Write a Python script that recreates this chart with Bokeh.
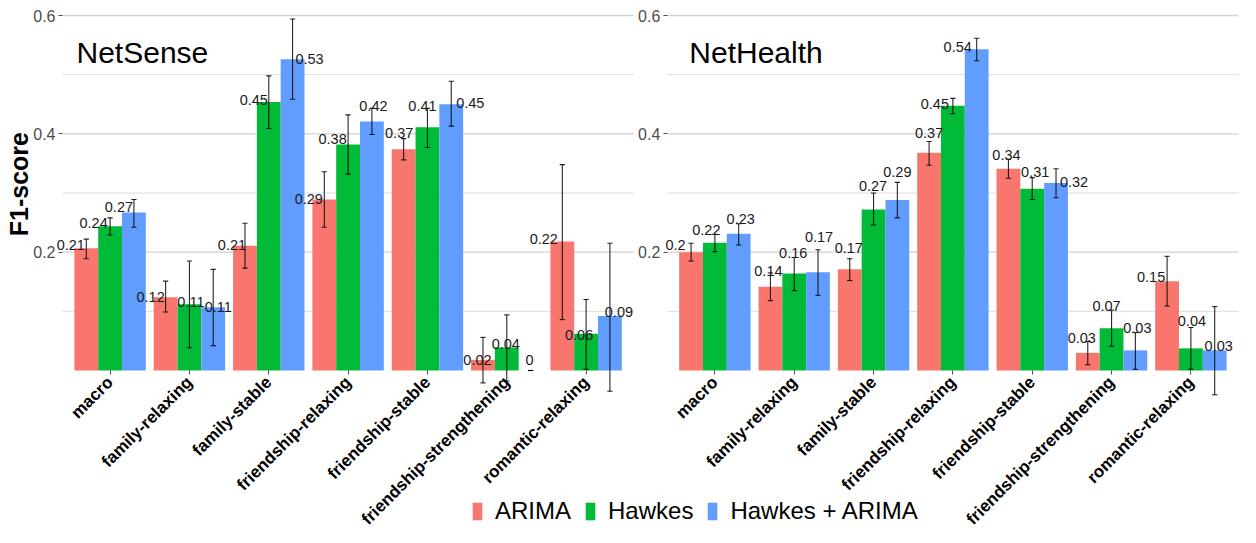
from math import pi
from bokeh.plotting import figure
from bokeh.models import (ColumnDataSource, Range1d, FixedTicker, LinearAxis, Label,
                          Legend, LegendItem)
from bokeh.embed import file_html
from bokeh.resources import INLINE
from bokeh.core.properties import value

# ---------------- data ----------------
categories = ["macro", "family-relaxing", "family-stable", "friendship-relaxing",
              "friendship-stable", "friendship-strengthening", "romantic-relaxing"]
series = ["ARIMA", "Hawkes", "Hawkes + ARIMA"]
panels = ["NetSense", "NetHealth"]

# NetSense F1-score (mean) and error-bar bounds
ns_arima = [0.2065, 0.124, 0.211, 0.289, 0.374, 0.018, 0.218]
ns_arima_lo = [0.189, 0.099, 0.173, 0.242, 0.356, -0.021, 0.086]
ns_arima_hi = [0.222, 0.151, 0.249, 0.336, 0.392, 0.056, 0.348]
ns_hawkes = [0.244, 0.112, 0.4537, 0.382, 0.411, 0.039, 0.062]
ns_hawkes_lo = [0.229, 0.0385, 0.409, 0.332, 0.377, -0.018, 0.002]
ns_hawkes_hi = [0.258, 0.185, 0.498, 0.432, 0.443, 0.094, 0.120]
ns_combo = [0.267, 0.107, 0.526, 0.421, 0.450, 0.0, 0.092]
ns_combo_lo = [0.242, 0.042, 0.4585, 0.399, 0.413, 0.0, -0.035]
ns_combo_hi = [0.289, 0.171, 0.594, 0.443, 0.489, 0.0, 0.215]

# NetHealth
nh_arima = [0.200, 0.1415, 0.171, 0.368, 0.341, 0.0298, 0.151]
nh_arima_lo = [0.185, 0.118, 0.152, 0.347, 0.325, 0.0098, 0.109]
nh_arima_hi = [0.215, 0.165, 0.189, 0.387, 0.357, 0.049, 0.193]
nh_hawkes = [0.216, 0.164, 0.272, 0.4476, 0.307, 0.0715, 0.0374]
nh_hawkes_lo = [0.201, 0.135, 0.246, 0.434, 0.289, 0.041, 0.002]
nh_hawkes_hi = [0.230, 0.191, 0.300, 0.460, 0.326, 0.102, 0.0727]
nh_combo = [0.231, 0.166, 0.288, 0.543, 0.317, 0.034, 0.034]
nh_combo_lo = [0.212, 0.127, 0.258, 0.5236, 0.292, 0.002, -0.041]
nh_combo_hi = [0.248, 0.204, 0.318, 0.5615, 0.341, 0.064, 0.108]

# y ticks
major_ticks = [0.2, 0.4, 0.6]
minor_ticks = [0.1, 0.3, 0.5]

# value-label nudges (px) as placed by the original label-repel layout
ns_label_dx = [[-15.5, -15, -13, -15.5, -4.5, -5.5, -18.5],
               [-16.5, 1.5, -15, -15.5, -5, -1, -7],
               [-15, 5, 17, 1.5, 19, -1, 9]]
ns_label_dy = [[3, 0, 1, 1, 16, 0, 3],
               [3, 2, 2, 5, 21, 3, -1],
               [6, 0, 0, 15, 1, 11, 4]]
nh_label_dx = [[-15.5, -2, -1, 0, -2, -6, -16],
               [-8.5, -1, -0.5, -18, 3, -5, 1],
               [2, 1, 0, -19, 18, 2, 4]]
nh_label_dy = [[7, 16, 21, 20, 14, 15, 4],
               [13, 20, 24, 2, 17, 22, 27],
               [15, 35, 28, 2, 1, 22, 4]]

# ---------------- layout / styling ----------------
W, H = 1240, 527
PAD_L, PAD_R = 62, 2          # px from canvas edge to the panels' outer edges
Y_TOP_PX, Y0_PX = 2, 370      # canvas px of y = y_top and of y = 0
colors = ["#F8766D", "#00BA38", "#619CFF"]
FONT = "Liberation Sans"
expand = 0.6
gap = 0.423
n = len(categories)
offsets = [0.0, n + expand + gap + expand - 1]
dodge = [-0.3, 0.0, 0.3]
bar_w = 0.3
cap_half = 0.033
y_top = 0.622

panel_lo = [off + 1 - expand for off in offsets]
panel_hi = [off + n + expand for off in offsets]
kx = (W - PAD_L - PAD_R) / (panel_hi[-1] - panel_lo[0])
x_start = panel_lo[0] - PAD_L / kx
x_end = panel_hi[-1] + PAD_R / kx
ky = (Y0_PX - Y_TOP_PX) / y_top
y_end = y_top + Y_TOP_PX / ky
y_start = -(H - Y0_PX) / ky

panel_vals = [
    ([ns_arima, ns_hawkes, ns_combo], [ns_arima_lo, ns_hawkes_lo, ns_combo_lo],
     [ns_arima_hi, ns_hawkes_hi, ns_combo_hi], ns_label_dx, ns_label_dy),
    ([nh_arima, nh_hawkes, nh_combo], [nh_arima_lo, nh_hawkes_lo, nh_combo_lo],
     [nh_arima_hi, nh_hawkes_hi, nh_combo_hi], nh_label_dx, nh_label_dy),
]

p = figure(width=W, height=H, output_backend="svg", toolbar_location=None,
           x_range=Range1d(x_start, x_end), y_range=Range1d(y_start, y_end),
           min_border_left=0, min_border_right=0, min_border_top=0,
           min_border_bottom=0)
p.outline_line_color = None
p.xgrid.visible = False
p.ygrid.visible = False

# per-panel gridlines
for x0, x1 in zip(panel_lo, panel_hi):
    p.segment(x0=[x0] * len(minor_ticks), x1=[x1] * len(minor_ticks),
              y0=minor_ticks, y1=minor_ticks, line_color="#dcdcdc",
              line_width=1.0, level="underlay")
    p.segment(x0=[x0] * len(major_ticks), x1=[x1] * len(major_ticks),
              y0=major_ticks, y1=major_ticks, line_color="#d2d2d2",
              line_width=1.3, level="underlay")

bar_renderers = []
sources = []
for s in range(len(series)):
    data = dict(x=[], top=[], lo=[], hi=[], cl=[], cr=[], label=[], dx=[], dy=[])
    for pi_, off in enumerate(offsets):
        vals, los, his, ldx, ldy = panel_vals[pi_]
        for i in range(n):
            xc = off + i + 1 + dodge[s]
            v = vals[s][i]
            data["x"].append(xc)
            data["top"].append(v)
            data["lo"].append(los[s][i])
            data["hi"].append(his[s][i])
            data["cl"].append(xc - cap_half)
            data["cr"].append(xc + cap_half)
            data["label"].append(f"{round(v, 2):g}")
            data["dx"].append(ldx[s][i])
            data["dy"].append(-ldy[s][i])
    src = ColumnDataSource(data)
    sources.append(src)
    r = p.vbar(x="x", top="top", bottom=0, width=bar_w, source=src,
               fill_color=colors[s], line_color=None)
    bar_renderers.append(r)

# error bars and value labels on top of all bars
for src in sources:
    for a, b, c, d in (("x", "x", "lo", "hi"), ("cl", "cr", "lo", "lo"), ("cl", "cr", "hi", "hi")):
        p.segment(x0=a, x1=b, y0=c, y1=d, source=src,
                  line_color="black", line_alpha=0.85, line_width=1.1)
for src in sources:
    p.text(x="x", y="top", text="label", x_offset="dx", y_offset="dy", source=src,
           text_align="center", text_baseline="alphabetic",
           text_font=value(FONT), text_font_size="14.5px", text_color="#1a1a1a")


def style_yaxis(ax):
    ax.ticker = FixedTicker(ticks=major_ticks)
    ax.axis_line_color = None
    ax.major_tick_line_color = "#4d4d4d"
    ax.major_tick_out = 4
    ax.major_tick_in = 0
    ax.minor_tick_line_color = None
    ax.major_label_text_font = FONT
    ax.major_label_text_font_size = "16px"
    ax.major_label_text_color = "#4d4d4d"
    ax.major_label_standoff = 3


# y axes drawn at each panel's left edge
ya = p.yaxis[0]
ya.fixed_location = panel_lo[0]
style_yaxis(ya)
ax2 = LinearAxis(fixed_location=panel_lo[1])
style_yaxis(ax2)
p.add_layout(ax2, "left")

# x axis with category labels for both panels, at y = 0
tick_pos = []
overrides = {}
for off in offsets:
    for i, c in enumerate(categories):
        t = off + i + 1
        tick_pos.append(t)
        overrides[t] = c
xa = p.xaxis[0]
xa.fixed_location = 0
xa.ticker = FixedTicker(ticks=tick_pos)
xa.major_label_overrides = overrides
xa.major_label_orientation = pi / 4
xa.axis_line_color = None
xa.major_tick_line_color = "#4d4d4d"
xa.major_tick_out = 4
xa.major_tick_in = 0
xa.minor_tick_line_color = None
xa.major_label_text_font = FONT
xa.major_label_text_font_style = "bold"
xa.major_label_text_font_size = "17px"
xa.major_label_text_color = "black"
xa.major_label_standoff = 5

# y title
p.add_layout(Label(x=panel_lo[0], x_offset=-44, y=0.315, text="F1-score", angle=pi / 2,
                   text_align="center", text_baseline="middle",
                   text_font=FONT, text_font_style="bold", text_font_size="25px",
                   text_color="black"))

# panel titles
title_nudge = [14, 22]
for x0, name, nx in zip(panel_lo, panels, title_nudge):
    p.add_layout(Label(x=x0, x_offset=nx, y=0.537, text=name,
                       text_align="left", text_baseline="alphabetic",
                       text_font=FONT, text_font_size="30px", text_color="black"))

legend = Legend(items=[LegendItem(label=s, renderers=[r]) for s, r in zip(series, bar_renderers)],
                orientation="horizontal", location=(471, 2), margin=0, padding=0,
                glyph_width=12, glyph_height=22, label_standoff=12, spacing=13,
                label_text_font=FONT, label_text_font_size="24px",
                label_text_color="black", border_line_color=None,
                background_fill_alpha=0)
p.add_layout(legend)

open("out.html", "w").write(file_html(p, INLINE))
